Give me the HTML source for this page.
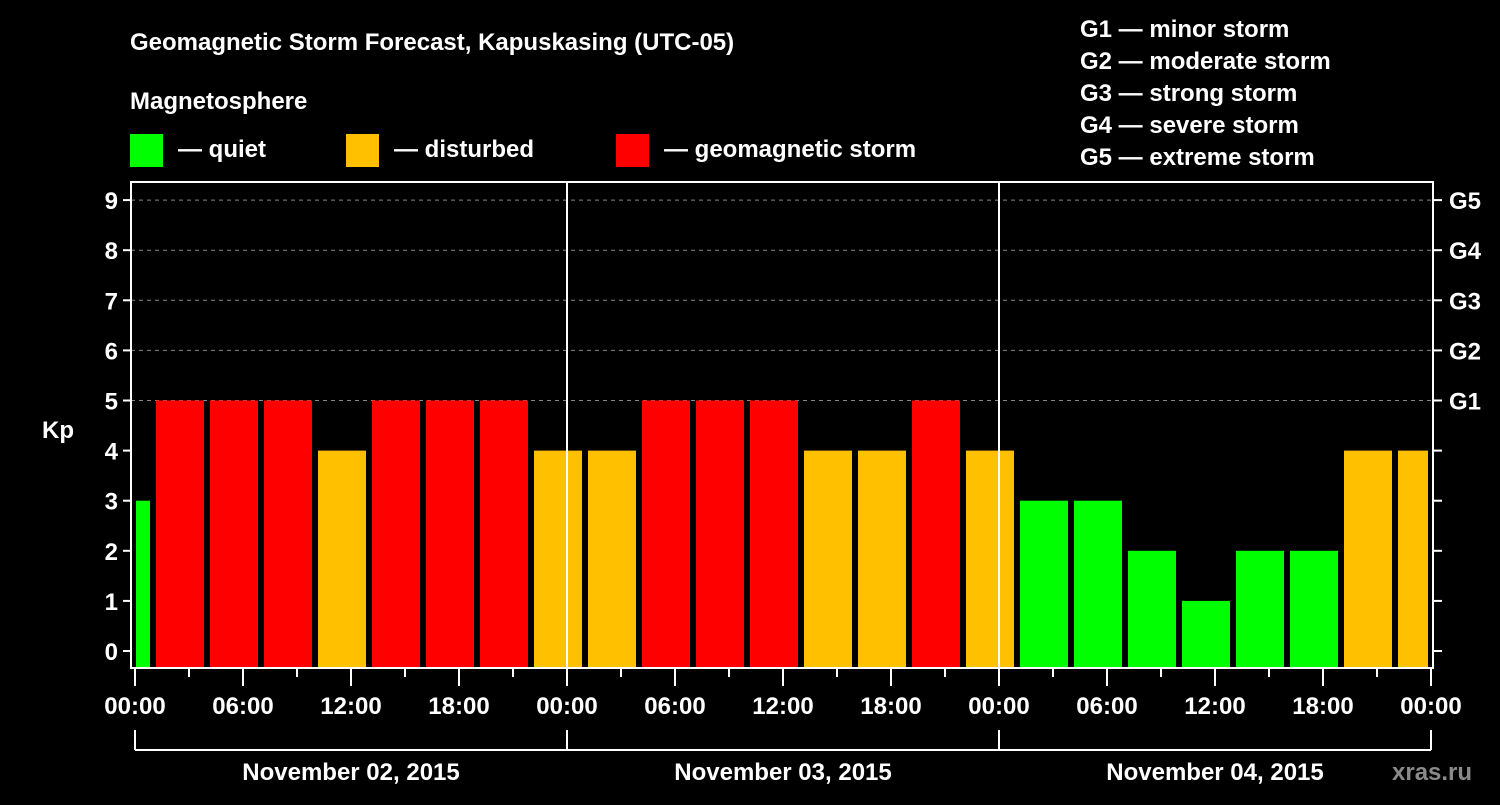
<!DOCTYPE html>
<html><head><meta charset="utf-8"><style>
body{margin:0;background:#000;width:1500px;height:800px;overflow:hidden}
svg text{font-family:"Liberation Sans",sans-serif;font-weight:bold;fill:#fff}
</style></head><body>
<svg id="c" width="1500" height="800">
<text x="130" y="50" font-size="24">Geomagnetic Storm Forecast, Kapuskasing (UTC-05)</text>
<text x="130" y="109" font-size="24">Magnetosphere</text>
<rect x="130" y="134" width="33" height="33" fill="#00ff00"/>
<text x="178" y="157" font-size="24">— quiet</text>
<rect x="346" y="134" width="33" height="33" fill="#ffc000"/>
<text x="394" y="157" font-size="24">— disturbed</text>
<rect x="616" y="134" width="33" height="33" fill="#ff0000"/>
<text x="664" y="157" font-size="24">— geomagnetic storm</text>
<g font-size="24">
<text x="1080" y="37">G1 — minor storm</text>
<text x="1080" y="69">G2 — moderate storm</text>
<text x="1080" y="101">G3 — strong storm</text>
<text x="1080" y="133">G4 — severe storm</text>
<text x="1080" y="165">G5 — extreme storm</text>
</g>
<text x="42" y="438" font-size="24">Kp</text>
<g id="plot"></g>
<text x="1392" y="780" font-size="24" fill="#888" style="fill:#8a8a8a">xras.ru</text>
</svg>
<script>
const kpValues=[3,5,5,5,4,5,5,5,4,4,5,5,5,4,4,5,4,3,3,2,1,2,2,4,4];
const firstStartHour=-2;
const stepHours=3;
const xTickLabels=["00:00","06:00","12:00","18:00","00:00","06:00","12:00","18:00","00:00","06:00","12:00","18:00","00:00"];
const dayLabels=["November 02, 2015","November 03, 2015","November 04, 2015"];
const gLabels=["G1","G2","G3","G4","G5"];
const L=131,R=1433,T=182,B=668;
const x=h=>135+18*h;
const y=v=>651-50.1*v;
const ns="http://www.w3.org/2000/svg";
const g=document.getElementById('plot');
function mk(t,a){const e=document.createElementNS(ns,t);for(const k in a)e.setAttribute(k,a[k]);g.appendChild(e);return e;}
const col=v=>v>=5?"#ff0000":(v>=4?"#ffc000":"#00ff00");
for(let v=5;v<=9;v++){const e=mk('line',{x1:L,x2:R,y1:y(v),y2:y(v),stroke:"#888","stroke-dasharray":"4,4","stroke-width":1});

}
kpValues.forEach((v,i)=>{const s=firstStartHour+i*stepHours;let x0=Math.max(x(s)+3,L+5),x1=Math.min(x(s+stepHours)-3,R-5);
const e=mk('rect',{x:x0,y:y(v),width:x1-x0,height:B-y(v),fill:col(v)});

});
[x(24),x(48)].forEach((xx,i)=>{const e=mk('line',{x1:xx,x2:xx,y1:T,y2:B,stroke:"#fff","stroke-width":2});

});
const f=mk('rect',{x:L,y:T,width:R-L,height:B-T,fill:"none",stroke:"#fff","stroke-width":2});


for(let v=0;v<=9;v++){mk('line',{x1:L-8,x2:L,y1:y(v),y2:y(v),stroke:"#fff","stroke-width":2});
mk('line',{x1:R,x2:R+9,y1:y(v),y2:y(v),stroke:"#fff","stroke-width":2});
const t=mk('text',{x:L-13,y:y(v)+9,"font-size":24,"text-anchor":"end"});t.textContent=v;

}
gLabels.forEach((s,i)=>{const t=mk('text',{x:1449,y:y(i+5)+9,"font-size":24});t.textContent=s;

});
for(let h=0;h<=72;h+=3){const maj=h%6===0;mk('line',{x1:x(h),x2:x(h),y1:B,y2:B+(maj?18:9),stroke:"#fff","stroke-width":2});}
xTickLabels.forEach((s,i)=>{const t=mk('text',{x:x(i*6),y:714,"font-size":24,"text-anchor":"middle"});t.textContent=s;

});
mk('line',{x1:x(0),x2:x(72),y1:750,y2:750,stroke:"#fff","stroke-width":2});
for(let d=0;d<=3;d++)mk('line',{x1:x(d*24),x2:x(d*24),y1:730,y2:750,stroke:"#fff","stroke-width":2});
dayLabels.forEach((s,i)=>{const t=mk('text',{x:x(i*24+12),y:780,"font-size":24,"text-anchor":"middle"});t.textContent=s;

});
</script>
</body></html>
